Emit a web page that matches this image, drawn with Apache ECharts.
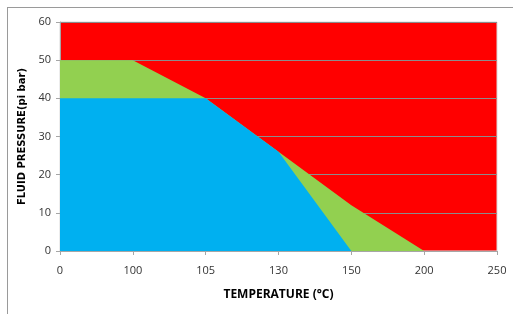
<!DOCTYPE html>
<html>
<head>
<meta charset="utf-8">
<script src="https://cdn.jsdelivr.net/npm/echarts@6/dist/echarts.min.js"></script>
<style>
  html, body { margin: 0; padding: 0; background: #fff; }
  #frame {
    position: absolute; left: 7px; top: 7px; width: 600px; height: 400px;
    border-top: 1px solid #9a9a9a; border-left: 1px solid #9a9a9a;
  }
  #chart { position: absolute; left: 0; top: 0; width: 513px; height: 314px; }
</style>
</head>
<body>
<div id="frame"></div>
<div id="chart"></div>
<script>
// temperature categories (°C)
var temps = ['0', '100', '105', '130', '150', '200', '250']
// upper limit (green zone top)
var upperLimit = [50, 50, 40, 26, 12, 0, 0]
// lower limit (blue zone top)
var lowerLimit = [40, 40, 40, 26, 0, 0, 0]
var yTicks = [0, 10, 20, 30, 40, 50, 60]

var fontFam = 'Liberation Sans Narrow, Open Sans, sans-serif'

var myChart = echarts.init(document.getElementById('chart'))
var option = {
  animation: false,
  grid: {
    left: 60,
    top: 22,
    width: 437,
    height: 229,
    show: true,
    backgroundColor: '#ff0000',
    borderWidth: 1,
    borderColor: '#d9d9d9'
  },
  xAxis: {
    type: 'category',
    boundaryGap: false,
    data: temps,
    name: 'TEMPERATURE (°C)',
    nameLocation: 'middle',
    nameGap: 38,
    nameTextStyle: { color: '#000', fontSize: 12, fontFamily: fontFam, fontWeight: 'bold' },
    axisLine: { show: true, lineStyle: { color: '#a6a6a6' } },
    axisTick: { show: true, length: 4, lineStyle: { color: '#a6a6a6' } },
    axisLabel: { color: '#333', fontSize: 11, fontFamily: fontFam, margin: 14 },
    splitLine: { show: false }
  },
  yAxis: {
    type: 'value',
    min: yTicks[0],
    max: yTicks[yTicks.length - 1],
    interval: 10,
    name: 'FLUID PRESSURE(pi bar)',
    nameLocation: 'middle',
    nameGap: 32,
    nameTextStyle: { color: '#000', fontSize: 10, fontFamily: 'DejaVu Sans, sans-serif', fontWeight: 'bold' },
    axisLine: { show: true, lineStyle: { color: '#a6a6a6' } },
    axisTick: { show: true, length: 4, lineStyle: { color: '#a6a6a6' } },
    axisLabel: { color: '#333', fontSize: 11, fontFamily: fontFam, margin: 9 },
    splitLine: { show: true, lineStyle: { color: '#8c8c8c', width: 1 } }
  },
  series: [
    {
      name: 'upper',
      type: 'line',
      data: upperLimit,
      symbol: 'none',
      lineStyle: { width: 0 },
      areaStyle: { color: '#92d050', opacity: 1 },
      z: 3
    },
    {
      name: 'lower',
      type: 'line',
      data: lowerLimit,
      symbol: 'none',
      lineStyle: { width: 0 },
      areaStyle: { color: '#00b0f0', opacity: 1 },
      z: 4
    }
  ]
}
myChart.setOption(option)
</script>
</body>
</html>
